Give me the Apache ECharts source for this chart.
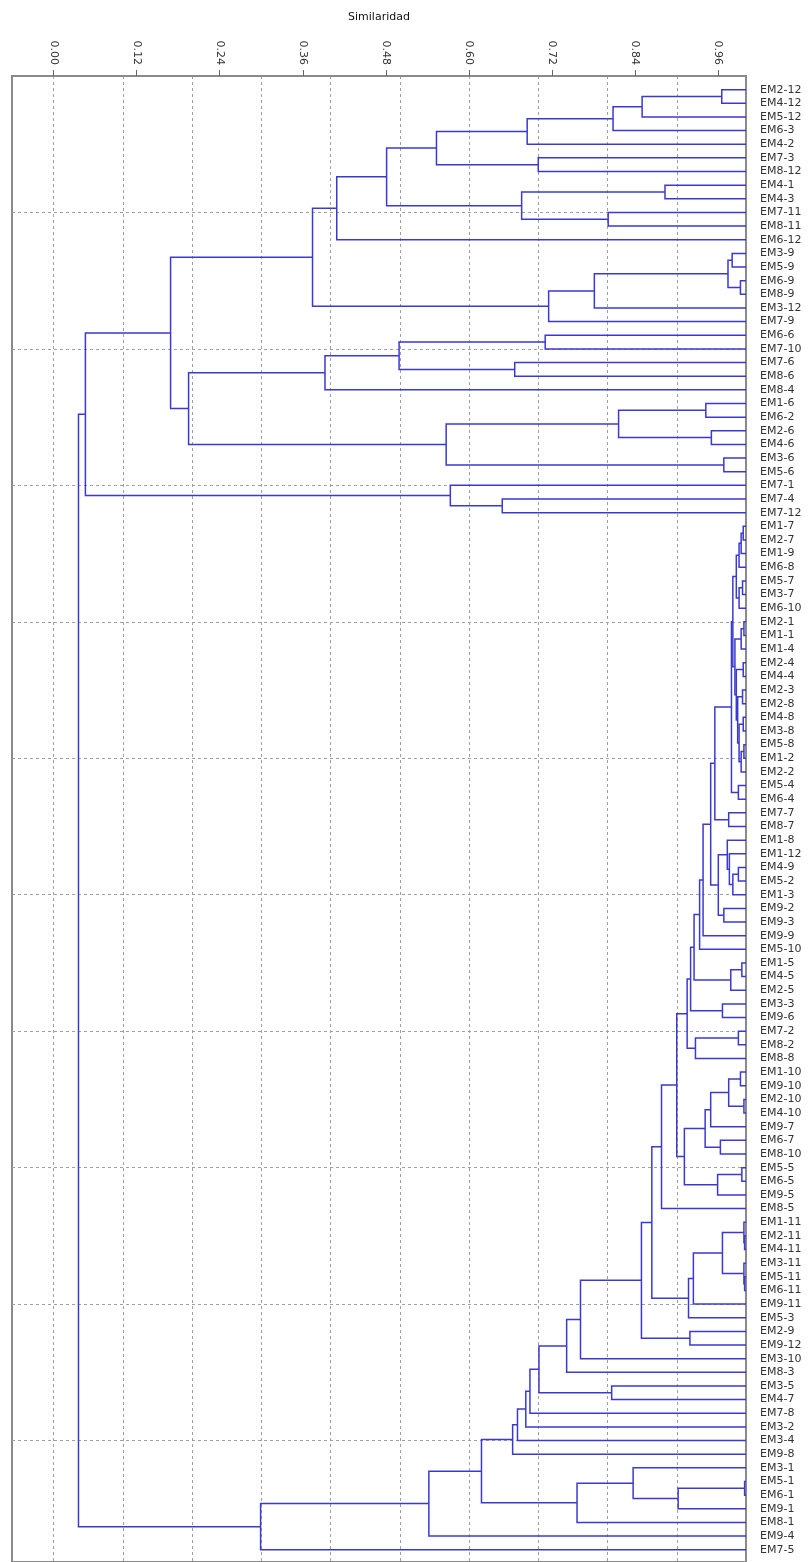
<!DOCTYPE html>
<html>
<head>
<meta charset="utf-8">
<script src="https://cdn.jsdelivr.net/npm/echarts@6/dist/echarts.min.js"></script>
<style>
html,body{margin:0;padding:0;background:#fff;}
#chart{width:809px;height:1562px;}
</style>
</head>
<body>
<div id="chart"></div>
<script>
// Leaves, top to bottom
const leaves = [
 'EM2-12','EM4-12','EM5-12','EM6-3','EM4-2','EM7-3','EM8-12','EM4-1','EM4-3','EM7-11',
 'EM8-11','EM6-12','EM3-9','EM5-9','EM6-9','EM8-9','EM3-12','EM7-9','EM6-6','EM7-10',
 'EM7-6','EM8-6','EM8-4','EM1-6','EM6-2','EM2-6','EM4-6','EM3-6','EM5-6','EM7-1',
 'EM7-4','EM7-12','EM1-7','EM2-7','EM1-9','EM6-8','EM5-7','EM3-7','EM6-10','EM2-1',
 'EM1-1','EM1-4','EM2-4','EM4-4','EM2-3','EM2-8','EM4-8','EM3-8','EM5-8','EM1-2',
 'EM2-2','EM5-4','EM6-4','EM7-7','EM8-7','EM1-8','EM1-12','EM4-9','EM5-2','EM1-3',
 'EM9-2','EM9-3','EM9-9','EM5-10','EM1-5','EM4-5','EM2-5','EM3-3','EM9-6','EM7-2',
 'EM8-2','EM8-8','EM1-10','EM9-10','EM2-10','EM4-10','EM9-7','EM6-7','EM8-10','EM5-5',
 'EM6-5','EM9-5','EM8-5','EM1-11','EM2-11','EM4-11','EM3-11','EM5-11','EM6-11','EM9-11',
 'EM5-3','EM2-9','EM9-12','EM3-10','EM8-3','EM3-5','EM4-7','EM7-8','EM3-2','EM3-4',
 'EM9-8','EM3-1','EM5-1','EM6-1','EM9-1','EM8-1','EM9-4','EM7-5'
];

// Merges: [child A, child B, similarity]; strings = leaves, numbers = earlier merge index
const merges = [
 ['EM2-12','EM4-12',0.965], [0,'EM5-12',0.850], [1,'EM6-3',0.808], [2,'EM4-2',0.684],
 ['EM7-3','EM8-12',0.700], [3,4,0.553], ['EM4-1','EM4-3',0.883], ['EM7-11','EM8-11',0.801],
 [6,7,0.676], [5,8,0.481], [9,'EM6-12',0.409], ['EM3-9','EM5-9',0.980],
 ['EM6-9','EM8-9',0.992], [11,12,0.974], [13,'EM3-12',0.781], [14,'EM7-9',0.715],
 [10,15,0.374], ['EM6-6','EM7-10',0.710], ['EM7-6','EM8-6',0.666], [17,18,0.499],
 [19,'EM8-4',0.392], ['EM1-6','EM6-2',0.942], ['EM2-6','EM4-6',0.950], [21,22,0.816],
 ['EM3-6','EM5-6',0.968], [23,24,0.567], [20,25,0.195], [16,26,0.169],
 ['EM7-4','EM7-12',0.648], ['EM7-1',28,0.573], [27,29,0.046],
 ['EM1-7','EM2-7',0.996], [31,'EM1-9',0.993], [32,'EM6-8',0.990], ['EM5-7','EM3-7',0.995],
 [34,'EM6-10',0.990], [33,35,0.986], ['EM2-1','EM1-1',0.997], [37,'EM1-4',0.993],
 ['EM2-4','EM4-4',0.996], ['EM2-3','EM2-8',0.995], ['EM4-8','EM3-8',0.996], ['EM5-8','EM1-2',0.997],
 [42,'EM2-2',0.993], [41,43,0.990], [40,44,0.988], [39,45,0.986],
 [38,46,0.984], [36,47,0.981], ['EM5-4','EM6-4',0.989], [48,49,0.979],
 ['EM7-7','EM8-7',0.975], [50,51,0.955], ['EM4-9','EM5-2',0.989], [53,'EM1-3',0.981],
 ['EM1-12',54,0.976], ['EM1-8',55,0.973], ['EM9-2','EM9-3',0.968], [56,57,0.960],
 [52,58,0.949], [59,'EM9-9',0.938], [60,'EM5-10',0.933], ['EM1-5','EM4-5',0.994],
 [62,'EM2-5',0.978], [61,63,0.925], ['EM3-3','EM9-6',0.966], [64,65,0.920],
 ['EM7-2','EM8-2',0.989], [67,'EM8-8',0.927], [66,68,0.915], ['EM1-10','EM9-10',0.992],
 ['EM2-10','EM4-10',0.997], [70,71,0.975], [72,'EM9-7',0.949], ['EM6-7','EM8-10',0.963],
 [73,74,0.941], ['EM5-5','EM6-5',0.994], [76,'EM9-5',0.959], [75,77,0.911],
 [69,78,0.900], [79,'EM8-5',0.878], ['EM2-11','EM4-11',0.998], ['EM1-11',81,0.997],
 ['EM5-11','EM6-11',0.998], ['EM3-11',83,0.997], [82,84,0.966], [85,'EM9-11',0.924],
 [86,'EM5-3',0.917], [80,87,0.864], ['EM2-9','EM9-12',0.919], [88,89,0.849],
 [90,'EM3-10',0.761], [91,'EM8-3',0.741], ['EM3-5','EM4-7',0.806], [92,93,0.701],
 [94,'EM7-8',0.688], [95,'EM3-2',0.682], [96,'EM3-4',0.670], [97,'EM9-8',0.663],
 ['EM5-1','EM6-1',0.998], [99,'EM9-1',0.902], ['EM3-1',100,0.837], [101,'EM8-1',0.756],
 [98,102,0.618], [103,'EM9-4',0.542], [104,'EM7-5',0.299], [30,105,0.036]
];

// Axis ticks
const xTickValues = [0, 0.12, 0.24, 0.36, 0.48, 0.60, 0.72, 0.84, 0.96];
const xGridValues = [0, 0.1, 0.2, 0.3, 0.4, 0.5, 0.6, 0.7, 0.8, 0.9];
const X_MIN = -0.06, X_MAX = 1.0;
const LEAF_SIM = 1.0;
const Y_MAX = 108.9;

const leafIndex = {};
leaves.forEach((n, i) => { leafIndex[n] = i + 1; });
const nodeY = [];
function pos(ref) {
  if (typeof ref === 'string') return [LEAF_SIM, leafIndex[ref]];
  return [merges[ref][2], nodeY[ref]];
}
merges.forEach((m, i) => { nodeY[i] = (pos(m[0])[1] + pos(m[1])[1]) / 2; });

const LINE_COLOR = '#3a3ad2';
const FONT = 'DejaVu Sans';

const chart = echarts.init(document.getElementById('chart'), null, {renderer: 'canvas'});
chart.setOption({
  backgroundColor: '#ffffff',
  animation: false,
  grid: {
    left: 12, right: 63, top: 76, bottom: -3,
    show: true, borderColor: '#8a8a8a', borderWidth: 2, backgroundColor: 'transparent'
  },
  xAxis: [
    {
      type: 'value', position: 'top', min: X_MIN, max: X_MAX,
      name: 'Similaridad', nameLocation: 'middle', nameGap: 53, nameMoveOverlap: false,
      nameTextStyle: {fontSize: 11, color: '#111', fontFamily: FONT},
      axisLine: {show: true, lineStyle: {color: '#8a8a8a', width: 2}},
      axisTick: {show: true, customValues: xTickValues, length: 6, lineStyle: {color: '#666', width: 1}},
      axisLabel: {
        show: true, customValues: xTickValues, rotate: -90, margin: 11,
        fontSize: 11, color: '#333', fontFamily: FONT,
        formatter: v => Number(v).toFixed(2)
      },
      splitLine: {show: false}
    },
    {
      type: 'value', position: 'bottom', min: X_MIN, max: X_MAX,
      axisLine: {show: false},
      axisTick: {show: false, customValues: xGridValues},
      axisLabel: {show: false, customValues: xGridValues},
      splitLine: {show: true, lineStyle: {color: '#a0a0a0', type: [3, 3], width: 1}}
    }
  ],
  yAxis: [
    {
      type: 'value', position: 'left', inverse: true, min: 0, max: Y_MAX, interval: 10,
      axisLine: {show: false}, axisTick: {show: false}, axisLabel: {show: false},
      splitLine: {show: true, lineStyle: {color: '#a0a0a0', type: [3, 3], width: 1}}
    },
    {
      type: 'value', position: 'right', inverse: true, min: 0, max: Y_MAX, interval: 1,
      axisLine: {show: false}, axisTick: {show: false},
      axisLabel: {
        show: true, margin: 14, fontSize: 11, color: '#333', fontFamily: FONT,
        hideOverlap: false,
        formatter: v => (Number.isInteger(v) && v >= 1 && v <= leaves.length) ? leaves[v - 1] : ''
      },
      splitLine: {show: false}
    }
  ],
  series: [{
    type: 'custom',
    xAxisIndex: 0, yAxisIndex: 0,
    silent: true,
    clip: false,
    encode: {x: 0, y: 1},
    data: merges.map((m, i) => [m[2], nodeY[i], i]),
    renderItem: function (params, api) {
      const i = api.value(2);
      const m = merges[i];
      const a = pos(m[0]), b = pos(m[1]);
      const pts = [api.coord(a), api.coord([m[2], a[1]]), api.coord([m[2], b[1]]), api.coord(b)];
      return {
        type: 'polyline',
        shape: {points: pts},
        style: {stroke: LINE_COLOR, lineWidth: 1.5, fill: null}
      };
    }
  }]
});
</script>
</body>
</html>
